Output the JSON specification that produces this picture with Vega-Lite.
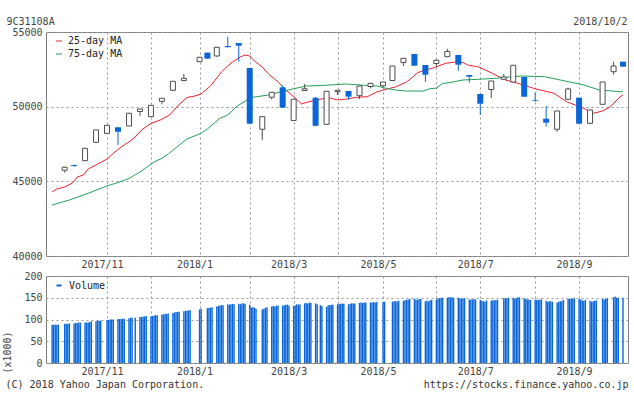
{
"$schema": "https://vega.github.io/schema/vega-lite/v6.json",
"background": "white",
"padding": {"left": 1, "top": 15, "right": 0, "bottom": 0},
"spacing": 0,
"datasets": {
"candles": [
{"d":"2017-10-10","o":45740,"h":45965,"l":45580,"c":45945},
{"d":"2017-10-16","o":46090,"h":46120,"l":45965,"c":46025},
{"d":"2017-10-23","o":46382,"h":47222,"l":46358,"c":47212},
{"d":"2017-10-30","o":47615,"h":48449,"l":47605,"c":48440},
{"d":"2017-11-06","o":48214,"h":48765,"l":48214,"c":48754},
{"d":"2017-11-13","o":48616,"h":48636,"l":47438,"c":48322},
{"d":"2017-11-20","o":48705,"h":49559,"l":48705,"c":49559},
{"d":"2017-11-27","o":49677,"h":49854,"l":49392,"c":49844},
{"d":"2017-12-04","o":49328,"h":50089,"l":49328,"c":50089},
{"d":"2017-12-11","o":50360,"h":50561,"l":50158,"c":50561},
{"d":"2017-12-18","o":51096,"h":51700,"l":51052,"c":51700},
{"d":"2017-12-25","o":51749,"h":52191,"l":51749,"c":51897},
{"d":"2018-01-04","o":53011,"h":53306,"l":53011,"c":53306},
{"d":"2018-01-09","o":53615,"h":53615,"l":53213,"c":53213},
{"d":"2018-01-15","o":53394,"h":53976,"l":53330,"c":53976},
{"d":"2018-01-22","o":54062,"h":54686,"l":53979,"c":53979},
{"d":"2018-01-29","o":54263,"h":54263,"l":53011,"c":54082},
{"d":"2018-02-05","o":52589,"h":52589,"l":48862,"c":48862},
{"d":"2018-02-13","o":48485,"h":49328,"l":47772,"c":49328},
{"d":"2018-02-19","o":50630,"h":50964,"l":50492,"c":50964},
{"d":"2018-02-26","o":51297,"h":51415,"l":49932,"c":49932},
{"d":"2018-03-05","o":49074,"h":50500,"l":49074,"c":50500},
{"d":"2018-03-12","o":51081,"h":51518,"l":51081,"c":51199},
{"d":"2018-03-19","o":50594,"h":50649,"l":48719,"c":48719},
{"d":"2018-03-26","o":48820,"h":51029,"l":48820,"c":51029},
{"d":"2018-04-02","o":51003,"h":51096,"l":50782,"c":51096},
{"d":"2018-04-09","o":51049,"h":51049,"l":50468,"c":50669},
{"d":"2018-04-16","o":50735,"h":51384,"l":50512,"c":51384},
{"d":"2018-04-23","o":51350,"h":51565,"l":51229,"c":51565},
{"d":"2018-05-01","o":51405,"h":51651,"l":51297,"c":51651},
{"d":"2018-05-07","o":51752,"h":52723,"l":51752,"c":52723},
{"d":"2018-05-14","o":52958,"h":53239,"l":52722,"c":53239},
{"d":"2018-05-21","o":53527,"h":53527,"l":52743,"c":52743},
{"d":"2018-05-28","o":52790,"h":52790,"l":51651,"c":52141},
{"d":"2018-06-04","o":52890,"h":53172,"l":52703,"c":53106},
{"d":"2018-06-11","o":53346,"h":53880,"l":53346,"c":53694},
{"d":"2018-06-18","o":53460,"h":53460,"l":52407,"c":52810},
{"d":"2018-06-25","o":52120,"h":52120,"l":51605,"c":52007},
{"d":"2018-07-02","o":50849,"h":50849,"l":49441,"c":50199},
{"d":"2018-07-09","o":51150,"h":51719,"l":50581,"c":51719},
{"d":"2018-07-17","o":51833,"h":52187,"l":51833,"c":51987},
{"d":"2018-07-23","o":51652,"h":52771,"l":51652,"c":52771},
{"d":"2018-07-30","o":51987,"h":51987,"l":50668,"c":50668},
{"d":"2018-08-06","o":50426,"h":50935,"l":50335,"c":50380},
{"d":"2018-08-13","o":49195,"h":50045,"l":48659,"c":48927},
{"d":"2018-08-20","o":48485,"h":49710,"l":48322,"c":49710},
{"d":"2018-08-27","o":50493,"h":51268,"l":50493,"c":51184},
{"d":"2018-09-03","o":50601,"h":50601,"l":48860,"c":48860},
{"d":"2018-09-10","o":48886,"h":49777,"l":48839,"c":49777},
{"d":"2018-09-18","o":50159,"h":51652,"l":50159,"c":51652},
{"d":"2018-09-25","o":52341,"h":53011,"l":52141,"c":52723},
{"d":"2018-10-01","o":53011,"h":53011,"l":52676,"c":52676}
],
"ma": [
{"s":"25-day MA","d":"2017-10-02","v":44286},
{"s":"25-day MA","d":"2017-10-05","v":44488},
{"s":"25-day MA","d":"2017-10-10","v":44621},
{"s":"25-day MA","d":"2017-10-15","v":44889},
{"s":"25-day MA","d":"2017-10-18","v":45291},
{"s":"25-day MA","d":"2017-10-22","v":45425},
{"s":"25-day MA","d":"2017-10-25","v":45826},
{"s":"25-day MA","d":"2017-10-30","v":46094},
{"s":"25-day MA","d":"2017-11-06","v":46496},
{"s":"25-day MA","d":"2017-11-11","v":46964},
{"s":"25-day MA","d":"2017-11-15","v":47299},
{"s":"25-day MA","d":"2017-11-20","v":47634},
{"s":"25-day MA","d":"2017-11-24","v":47969},
{"s":"25-day MA","d":"2017-11-28","v":48438},
{"s":"25-day MA","d":"2017-12-04","v":48874},
{"s":"25-day MA","d":"2017-12-10","v":49107},
{"s":"25-day MA","d":"2017-12-16","v":49442},
{"s":"25-day MA","d":"2017-12-21","v":50045},
{"s":"25-day MA","d":"2017-12-27","v":50614},
{"s":"25-day MA","d":"2018-01-01","v":50714},
{"s":"25-day MA","d":"2018-01-05","v":50849},
{"s":"25-day MA","d":"2018-01-11","v":51384},
{"s":"25-day MA","d":"2018-01-18","v":52322},
{"s":"25-day MA","d":"2018-01-22","v":52723},
{"s":"25-day MA","d":"2018-01-25","v":52992},
{"s":"25-day MA","d":"2018-01-30","v":53326},
{"s":"25-day MA","d":"2018-02-02","v":53460},
{"s":"25-day MA","d":"2018-02-05","v":53393},
{"s":"25-day MA","d":"2018-02-08","v":53058},
{"s":"25-day MA","d":"2018-02-13","v":52657},
{"s":"25-day MA","d":"2018-02-17","v":52187},
{"s":"25-day MA","d":"2018-02-23","v":51672},
{"s":"25-day MA","d":"2018-02-28","v":51117},
{"s":"25-day MA","d":"2018-03-06","v":50581},
{"s":"25-day MA","d":"2018-03-10","v":50179},
{"s":"25-day MA","d":"2018-03-14","v":50312},
{"s":"25-day MA","d":"2018-03-20","v":50447},
{"s":"25-day MA","d":"2018-03-27","v":50614},
{"s":"25-day MA","d":"2018-04-02","v":50447},
{"s":"25-day MA","d":"2018-04-08","v":50514},
{"s":"25-day MA","d":"2018-04-14","v":50628},
{"s":"25-day MA","d":"2018-04-21","v":50668},
{"s":"25-day MA","d":"2018-04-27","v":50982},
{"s":"25-day MA","d":"2018-05-01","v":51117},
{"s":"25-day MA","d":"2018-05-09","v":51317},
{"s":"25-day MA","d":"2018-05-16","v":51652},
{"s":"25-day MA","d":"2018-05-20","v":51987},
{"s":"25-day MA","d":"2018-05-23","v":52275},
{"s":"25-day MA","d":"2018-05-28","v":52455},
{"s":"25-day MA","d":"2018-06-02","v":52589},
{"s":"25-day MA","d":"2018-06-10","v":52904},
{"s":"25-day MA","d":"2018-06-16","v":52992},
{"s":"25-day MA","d":"2018-06-21","v":52957},
{"s":"25-day MA","d":"2018-06-24","v":52790},
{"s":"25-day MA","d":"2018-07-01","v":52657},
{"s":"25-day MA","d":"2018-07-10","v":52221},
{"s":"25-day MA","d":"2018-07-18","v":51786},
{"s":"25-day MA","d":"2018-07-26","v":51565},
{"s":"25-day MA","d":"2018-08-05","v":51230},
{"s":"25-day MA","d":"2018-08-18","v":50896},
{"s":"25-day MA","d":"2018-08-26","v":50333},
{"s":"25-day MA","d":"2018-09-06","v":49891},
{"s":"25-day MA","d":"2018-09-12","v":49556},
{"s":"25-day MA","d":"2018-09-18","v":49710},
{"s":"25-day MA","d":"2018-09-23","v":49998},
{"s":"25-day MA","d":"2018-09-29","v":50647},
{"s":"25-day MA","d":"2018-10-01","v":50782},
{"s":"75-day MA","d":"2017-10-02","v":43416},
{"s":"75-day MA","d":"2017-10-13","v":43751},
{"s":"75-day MA","d":"2017-10-26","v":44239},
{"s":"75-day MA","d":"2017-11-06","v":44688},
{"s":"75-day MA","d":"2017-11-15","v":44989},
{"s":"75-day MA","d":"2017-11-20","v":45190},
{"s":"75-day MA","d":"2017-11-28","v":45693},
{"s":"75-day MA","d":"2017-12-06","v":46295},
{"s":"75-day MA","d":"2017-12-11","v":46543},
{"s":"75-day MA","d":"2017-12-15","v":46831},
{"s":"75-day MA","d":"2017-12-27","v":47836},
{"s":"75-day MA","d":"2018-01-05","v":48217},
{"s":"75-day MA","d":"2018-01-09","v":48504},
{"s":"75-day MA","d":"2018-01-17","v":49221},
{"s":"75-day MA","d":"2018-01-22","v":49442},
{"s":"75-day MA","d":"2018-01-28","v":50045},
{"s":"75-day MA","d":"2018-02-06","v":50614},
{"s":"75-day MA","d":"2018-02-17","v":50782},
{"s":"75-day MA","d":"2018-02-23","v":50949},
{"s":"75-day MA","d":"2018-03-03","v":51150},
{"s":"75-day MA","d":"2018-03-13","v":51384},
{"s":"75-day MA","d":"2018-03-25","v":51431},
{"s":"75-day MA","d":"2018-04-07","v":51518},
{"s":"75-day MA","d":"2018-04-21","v":51417},
{"s":"75-day MA","d":"2018-04-27","v":51384},
{"s":"75-day MA","d":"2018-05-03","v":51230},
{"s":"75-day MA","d":"2018-05-09","v":51117},
{"s":"75-day MA","d":"2018-05-16","v":51049},
{"s":"75-day MA","d":"2018-05-27","v":51049},
{"s":"75-day MA","d":"2018-05-30","v":51184},
{"s":"75-day MA","d":"2018-06-04","v":51250},
{"s":"75-day MA","d":"2018-06-08","v":51552},
{"s":"75-day MA","d":"2018-06-12","v":51605},
{"s":"75-day MA","d":"2018-06-21","v":51786},
{"s":"75-day MA","d":"2018-07-01","v":51833},
{"s":"75-day MA","d":"2018-07-12","v":51900},
{"s":"75-day MA","d":"2018-07-18","v":51966},
{"s":"75-day MA","d":"2018-07-29","v":52054},
{"s":"75-day MA","d":"2018-08-12","v":52007},
{"s":"75-day MA","d":"2018-08-22","v":51786},
{"s":"75-day MA","d":"2018-09-06","v":51451},
{"s":"75-day MA","d":"2018-09-16","v":51117},
{"s":"75-day MA","d":"2018-09-29","v":51003},
{"s":"75-day MA","d":"2018-10-01","v":51003}
],
"vol": [
{"d":"2017-10-02","v":88},{"d":"2017-10-03","v":88},{"d":"2017-10-04","v":88},{"d":"2017-10-05","v":88},{"d":"2017-10-06","v":88},
{"d":"2017-10-10","v":90},{"d":"2017-10-11","v":90},{"d":"2017-10-12","v":90},{"d":"2017-10-13","v":91},
{"d":"2017-10-16","v":91},{"d":"2017-10-17","v":92},{"d":"2017-10-18","v":92},{"d":"2017-10-19","v":93},{"d":"2017-10-20","v":93},
{"d":"2017-10-23","v":93},{"d":"2017-10-24","v":93},{"d":"2017-10-25","v":93},{"d":"2017-10-26","v":94},{"d":"2017-10-27","v":96},
{"d":"2017-10-30","v":96},{"d":"2017-10-31","v":97},{"d":"2017-11-01","v":97},{"d":"2017-11-02","v":97},
{"d":"2017-11-06","v":99},{"d":"2017-11-07","v":99},{"d":"2017-11-08","v":100},{"d":"2017-11-09","v":100},{"d":"2017-11-10","v":100},
{"d":"2017-11-13","v":101},{"d":"2017-11-14","v":101},{"d":"2017-11-15","v":101},{"d":"2017-11-16","v":102},{"d":"2017-11-17","v":102},
{"d":"2017-11-20","v":103},{"d":"2017-11-21","v":104},{"d":"2017-11-22","v":104},{"d":"2017-11-24","v":104},
{"d":"2017-11-27","v":106},{"d":"2017-11-28","v":106},{"d":"2017-11-29","v":107},{"d":"2017-11-30","v":107},{"d":"2017-12-01","v":108},
{"d":"2017-12-04","v":107},{"d":"2017-12-05","v":108},{"d":"2017-12-06","v":109},{"d":"2017-12-07","v":110},{"d":"2017-12-08","v":110},
{"d":"2017-12-11","v":111},{"d":"2017-12-12","v":112},{"d":"2017-12-13","v":113},{"d":"2017-12-14","v":113},{"d":"2017-12-15","v":114},
{"d":"2017-12-18","v":115},{"d":"2017-12-19","v":116},{"d":"2017-12-20","v":117},{"d":"2017-12-21","v":117},{"d":"2017-12-22","v":118},
{"d":"2017-12-25","v":119},{"d":"2017-12-26","v":120},{"d":"2017-12-27","v":120},{"d":"2017-12-28","v":121},{"d":"2017-12-29","v":121},
{"d":"2018-01-04","v":123},{"d":"2018-01-05","v":125},
{"d":"2018-01-09","v":126},{"d":"2018-01-10","v":127},{"d":"2018-01-11","v":127},{"d":"2018-01-12","v":128},
{"d":"2018-01-15","v":130},{"d":"2018-01-16","v":131},{"d":"2018-01-17","v":132},{"d":"2018-01-18","v":133},{"d":"2018-01-19","v":133},
{"d":"2018-01-22","v":135},{"d":"2018-01-23","v":134},{"d":"2018-01-24","v":135},{"d":"2018-01-25","v":136},{"d":"2018-01-26","v":135},
{"d":"2018-01-29","v":136},{"d":"2018-01-30","v":135},{"d":"2018-01-31","v":137},{"d":"2018-02-01","v":137},{"d":"2018-02-02","v":136},
{"d":"2018-02-05","v":134},{"d":"2018-02-06","v":127},{"d":"2018-02-07","v":129},{"d":"2018-02-08","v":127},{"d":"2018-02-09","v":125},
{"d":"2018-02-13","v":123},{"d":"2018-02-14","v":125},{"d":"2018-02-15","v":127},{"d":"2018-02-16","v":128},
{"d":"2018-02-19","v":130},{"d":"2018-02-20","v":131},{"d":"2018-02-21","v":130},{"d":"2018-02-22","v":132},{"d":"2018-02-23","v":132},
{"d":"2018-02-26","v":132},{"d":"2018-02-27","v":133},{"d":"2018-02-28","v":134},{"d":"2018-03-01","v":134},{"d":"2018-03-02","v":132},
{"d":"2018-03-05","v":131},{"d":"2018-03-06","v":132},{"d":"2018-03-07","v":135},{"d":"2018-03-08","v":134},{"d":"2018-03-09","v":135},
{"d":"2018-03-12","v":137},{"d":"2018-03-13","v":138},{"d":"2018-03-14","v":137},{"d":"2018-03-15","v":139},{"d":"2018-03-16","v":138},
{"d":"2018-03-19","v":137},{"d":"2018-03-20","v":135},{"d":"2018-03-22","v":133},{"d":"2018-03-23","v":131},
{"d":"2018-03-26","v":129},{"d":"2018-03-27","v":133},{"d":"2018-03-28","v":133},{"d":"2018-03-29","v":134},{"d":"2018-03-30","v":134},
{"d":"2018-04-02","v":135},{"d":"2018-04-03","v":136},{"d":"2018-04-04","v":136},{"d":"2018-04-05","v":137},{"d":"2018-04-06","v":136},
{"d":"2018-04-09","v":135},{"d":"2018-04-10","v":136},{"d":"2018-04-11","v":137},{"d":"2018-04-12","v":137},{"d":"2018-04-13","v":137},
{"d":"2018-04-16","v":138},{"d":"2018-04-17","v":139},{"d":"2018-04-18","v":138},{"d":"2018-04-19","v":139},{"d":"2018-04-20","v":139},
{"d":"2018-04-23","v":139},{"d":"2018-04-24","v":139},{"d":"2018-04-25","v":140},{"d":"2018-04-26","v":139},{"d":"2018-04-27","v":140},
{"d":"2018-05-01","v":140},{"d":"2018-05-02","v":141},
{"d":"2018-05-07","v":141},{"d":"2018-05-08","v":142},{"d":"2018-05-09","v":142},{"d":"2018-05-10","v":142},{"d":"2018-05-11","v":143},
{"d":"2018-05-14","v":143},{"d":"2018-05-15","v":144},{"d":"2018-05-16","v":145},{"d":"2018-05-17","v":146},{"d":"2018-05-18","v":147},
{"d":"2018-05-21","v":148},{"d":"2018-05-22","v":146},{"d":"2018-05-23","v":145},{"d":"2018-05-24","v":147},{"d":"2018-05-25","v":147},
{"d":"2018-05-28","v":142},{"d":"2018-05-29","v":143},{"d":"2018-05-30","v":142},{"d":"2018-05-31","v":144},{"d":"2018-06-01","v":145},
{"d":"2018-06-04","v":146},{"d":"2018-06-05","v":148},{"d":"2018-06-06","v":149},{"d":"2018-06-07","v":150},{"d":"2018-06-08","v":150},
{"d":"2018-06-11","v":150},{"d":"2018-06-12","v":151},{"d":"2018-06-13","v":151},{"d":"2018-06-14","v":151},{"d":"2018-06-15","v":150},
{"d":"2018-06-18","v":150},{"d":"2018-06-19","v":149},{"d":"2018-06-20","v":148},{"d":"2018-06-21","v":148},{"d":"2018-06-22","v":149},
{"d":"2018-06-25","v":146},{"d":"2018-06-26","v":146},{"d":"2018-06-27","v":146},{"d":"2018-06-28","v":147},{"d":"2018-06-29","v":146},
{"d":"2018-07-02","v":145},{"d":"2018-07-03","v":143},{"d":"2018-07-04","v":142},{"d":"2018-07-05","v":141},{"d":"2018-07-06","v":144},
{"d":"2018-07-09","v":143},{"d":"2018-07-10","v":144},{"d":"2018-07-11","v":144},{"d":"2018-07-12","v":145},{"d":"2018-07-13","v":145},
{"d":"2018-07-17","v":149},{"d":"2018-07-18","v":149},{"d":"2018-07-19","v":148},{"d":"2018-07-20","v":150},
{"d":"2018-07-23","v":150},{"d":"2018-07-24","v":148},{"d":"2018-07-25","v":149},{"d":"2018-07-26","v":151},{"d":"2018-07-27","v":151},
{"d":"2018-07-30","v":149},{"d":"2018-07-31","v":147},{"d":"2018-08-01","v":146},{"d":"2018-08-02","v":146},{"d":"2018-08-03","v":145},
{"d":"2018-08-06","v":146},{"d":"2018-08-07","v":145},{"d":"2018-08-08","v":145},{"d":"2018-08-09","v":146},{"d":"2018-08-10","v":146},
{"d":"2018-08-13","v":143},{"d":"2018-08-14","v":141},{"d":"2018-08-15","v":142},{"d":"2018-08-16","v":142},{"d":"2018-08-17","v":141},
{"d":"2018-08-20","v":139},{"d":"2018-08-21","v":141},{"d":"2018-08-22","v":142},{"d":"2018-08-23","v":142},{"d":"2018-08-24","v":145},
{"d":"2018-08-27","v":147},{"d":"2018-08-28","v":148},{"d":"2018-08-29","v":148},{"d":"2018-08-30","v":147},{"d":"2018-08-31","v":149},
{"d":"2018-09-03","v":147},{"d":"2018-09-04","v":146},{"d":"2018-09-05","v":144},{"d":"2018-09-06","v":143},{"d":"2018-09-07","v":145},
{"d":"2018-09-10","v":143},{"d":"2018-09-11","v":141},{"d":"2018-09-12","v":142},{"d":"2018-09-13","v":143},{"d":"2018-09-14","v":144},
{"d":"2018-09-18","v":147},{"d":"2018-09-19","v":146},{"d":"2018-09-20","v":148},{"d":"2018-09-21","v":148},
{"d":"2018-09-25","v":151},{"d":"2018-09-26","v":153},{"d":"2018-09-27","v":150},{"d":"2018-09-28","v":150},
{"d":"2018-10-01","v":150}
]
},
"resolve": {"scale": {"color": "independent"}, "legend": {"color": "independent"}},
"vconcat": [
{
"width": 582,
"height": 224,
"resolve": {"axis": {"x": "independent", "y": "independent"}},
"layer": [
{
"data": {"name": "ma"},
"mark": {"type": "line", "strokeWidth": 1},
"encoding": {
"x": {"field": "d", "type": "temporal",
"scale": {"type": "utc", "nice": false, "domain": [{"year":2017,"month":10,"date":1,"hours":6,"minutes":43,"utc":true},{"year":2018,"month":10,"date":1,"hours":0,"minutes":15,"utc":true}]},
"axis": {"orient": "bottom", "grid": true, "title": null, "labelOffset": -5, "labelPadding": 3, "labelFlush": false, "labelOverlap": false,
"values": [{"year":2017,"month":11,"date":6,"utc":true},{"year":2017,"month":12,"date":4,"utc":true},{"year":2018,"month":1,"date":4,"utc":true},{"year":2018,"month":2,"date":5,"utc":true},{"year":2018,"month":3,"date":5,"utc":true},{"year":2018,"month":4,"date":2,"utc":true},{"year":2018,"month":5,"date":1,"utc":true},{"year":2018,"month":6,"date":4,"utc":true},{"year":2018,"month":7,"date":2,"utc":true},{"year":2018,"month":8,"date":6,"utc":true},{"year":2018,"month":9,"date":3,"utc":true}],
"labelExpr": "utcmonth(datum.value) % 2 == 0 ? utcFormat(datum.value, '%Y/%-m') : ''"}},
"y": {"field": "v", "type": "quantitative",
"scale": {"domain": [40000, 55000], "nice": false, "zero": false},
"axis": {"orient": "left", "values": [40000, 45000, 50000, 55000], "format": "d", "grid": true, "labelPadding": 4,
"title": "9C31108A", "titleAngle": 0, "titleX": -40, "titleY": -11, "titleAlign": "left", "titleBaseline": "middle"}},
"color": {"field": "s", "type": "nominal",
"scale": {"domain": ["25-day MA", "75-day MA"], "range": ["#e8232d", "#22a05a"]},
"legend": {"orient": "none", "legendX": 8, "legendY": 4, "title": null, "symbolType": "stroke", "symbolSize": 36, "symbolStrokeWidth": 1, "labelOffset": 4, "rowPadding": 3, "labelColor": "#222"}}
}
},
{
"data": {"name": "candles"},
"mark": {"type": "rule", "strokeWidth": 1},
"encoding": {
"x": {"field": "d", "type": "temporal",
"scale": {"type": "utc", "nice": false, "domain": [{"year":2017,"month":10,"date":1,"hours":6,"minutes":43,"utc":true},{"year":2018,"month":10,"date":1,"hours":0,"minutes":15,"utc":true}]},
"axis": {"orient": "top", "labels": false, "grid": false, "domain": false, "ticks": false,
"title": "2018/10/2", "titleX": 581, "titleY": -11, "titleAlign": "right", "titleBaseline": "middle", "titleAngle": 0}},
"y": {"field": "l", "type": "quantitative", "scale": {"domain": [40000, 55000], "nice": false, "zero": false}, "axis": null},
"y2": {"field": "h"},
"color": {"condition": {"test": "datum.c < datum.o", "value": "#0a66d8"}, "value": "#4d4d4d"}
}
},
{
"data": {"name": "candles"},
"transform": [{"filter": "datum.c >= datum.o"}],
"mark": {"type": "bar", "width": 5, "fill": "white", "stroke": "#4d4d4d", "strokeWidth": 1},
"encoding": {
"x": {"field": "d", "type": "temporal",
"scale": {"type": "utc", "nice": false, "domain": [{"year":2017,"month":10,"date":1,"hours":6,"minutes":43,"utc":true},{"year":2018,"month":10,"date":1,"hours":0,"minutes":15,"utc":true}]},
"axis": null},
"y": {"field": "o", "type": "quantitative", "scale": {"domain": [40000, 55000], "nice": false, "zero": false}, "axis": null},
"y2": {"field": "c"}
}
},
{
"data": {"name": "candles"},
"transform": [{"filter": "datum.c < datum.o"}],
"mark": {"type": "bar", "width": 6, "fill": "#0a66d8"},
"encoding": {
"x": {"field": "d", "type": "temporal",
"scale": {"type": "utc", "nice": false, "domain": [{"year":2017,"month":10,"date":1,"hours":6,"minutes":43,"utc":true},{"year":2018,"month":10,"date":1,"hours":0,"minutes":15,"utc":true}]},
"axis": null},
"y": {"field": "o", "type": "quantitative", "scale": {"domain": [40000, 55000], "nice": false, "zero": false}, "axis": null},
"y2": {"field": "c"}
}
}
]
},
{
"width": 582,
"height": 87,
"resolve": {"axis": {"x": "independent", "y": "independent"}},
"layer": [
{
"data": {"name": "vol"},
"mark": {"type": "bar", "width": 1.4},
"encoding": {
"x": {"field": "d", "type": "temporal",
"scale": {"type": "utc", "nice": false, "domain": [{"year":2017,"month":10,"date":1,"hours":6,"minutes":43,"utc":true},{"year":2018,"month":10,"date":1,"hours":0,"minutes":15,"utc":true}]},
"axis": {"orient": "bottom", "grid": true, "labelOffset": -5, "labelPadding": 3, "labelFlush": false, "labelOverlap": false,
"values": [{"year":2017,"month":11,"date":6,"utc":true},{"year":2017,"month":12,"date":4,"utc":true},{"year":2018,"month":1,"date":4,"utc":true},{"year":2018,"month":2,"date":5,"utc":true},{"year":2018,"month":3,"date":5,"utc":true},{"year":2018,"month":4,"date":2,"utc":true},{"year":2018,"month":5,"date":1,"utc":true},{"year":2018,"month":6,"date":4,"utc":true},{"year":2018,"month":7,"date":2,"utc":true},{"year":2018,"month":8,"date":6,"utc":true},{"year":2018,"month":9,"date":3,"utc":true}],
"labelExpr": "utcmonth(datum.value) % 2 == 0 ? utcFormat(datum.value, '%Y/%-m') : ''",
"title": "(C) 2018 Yahoo Japan Corporation.", "titleX": -41, "titleY": 21.5, "titleAlign": "left", "titleBaseline": "middle", "titleAngle": 0, "titleColor": "#333"}},
"y": {"field": "v", "type": "quantitative", "scale": {"domain": [0, 200], "nice": false},
"axis": {"orient": "left", "values": [0, 50, 100, 150, 200], "grid": true, "labelPadding": 4,
"title": "(x1000)", "titleX": -39, "titleY": 76, "titleAngle": 270, "titleAlign": "center", "titleBaseline": "middle"}},
"color": {"datum": "Volume", "type": "nominal", "scale": {"domain": ["Volume"], "range": ["#0a66d8"]},
"legend": {"orient": "none", "legendX": 8, "legendY": 4.5, "title": null, "symbolType": "M-1,-0.4H1V0.4H-1Z", "symbolSize": 25, "symbolStrokeWidth": 0, "labelOffset": 5, "labelColor": "#222"}}
}
},
{
"data": {"name": "vol"},
"mark": {"type": "bar", "width": 1, "opacity": 0},
"encoding": {
"x": {"field": "d", "type": "temporal",
"scale": {"type": "utc", "nice": false, "domain": [{"year":2017,"month":10,"date":1,"hours":6,"minutes":43,"utc":true},{"year":2018,"month":10,"date":1,"hours":0,"minutes":15,"utc":true}]},
"axis": {"orient": "top", "labels": false, "grid": false, "domain": false, "ticks": false,
"title": "https://stocks.finance.yahoo.co.jp", "titleX": 582, "titleY": 108.5, "titleAlign": "right", "titleBaseline": "middle", "titleAngle": 0, "titleColor": "#333"}},
"y": {"field": "v", "type": "quantitative", "scale": {"domain": [0, 200], "nice": false}, "axis": null}
}
}
]
}
],
"config": {
"font": "DejaVu Sans Mono",
"view": {"stroke": "#808080", "strokeWidth": 1},
"axis": {"labelFont": "DejaVu Sans Mono", "labelFontSize": 10, "labelColor": "#444", "titleFont": "DejaVu Sans Mono", "titleFontSize": 10, "titleFontWeight": "normal", "titleColor": "#444", "domain": false, "ticks": false, "tickSize": 0, "gridColor": "#999", "gridDash": [2, 3], "gridWidth": 1, "gridOpacity": 1},
"legend": {"labelFont": "DejaVu Sans Mono", "labelFontSize": 10, "padding": 0}
}
}
